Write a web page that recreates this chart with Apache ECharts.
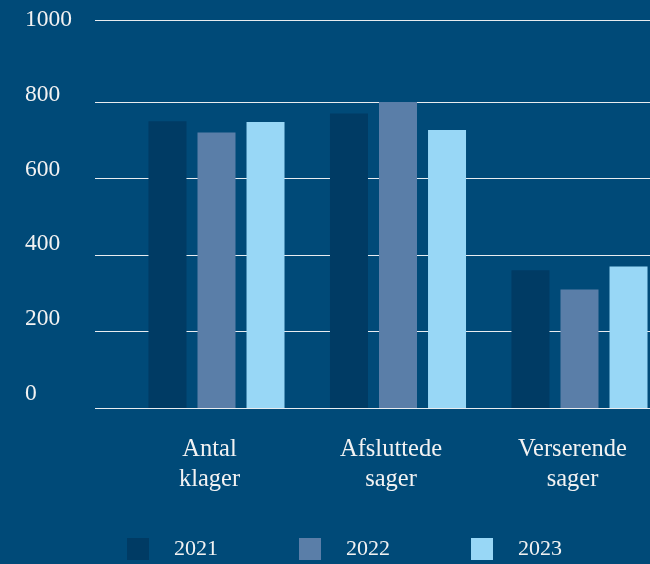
<!DOCTYPE html>
<html><head><meta charset="utf-8">
<script src="https://cdn.jsdelivr.net/npm/echarts@6/dist/echarts.min.js"></script>
<style>html,body{margin:0;padding:0;background:#004a78;}#c{width:650px;height:564px;}</style>
</head><body><div id="c"></div>
<script>
const categories = ['Antal\nklager', 'Afsluttede\nsager', 'Verserende\nsager'];
const seriesNames = ['2021', '2022', '2023'];
const values2021 = [750, 770, 360];
const values2022 = [720, 800, 310];
const values2023 = [748, 727, 370];
const yTicks = [0, 200, 400, 600, 800, 1000];

const colors = ['#003b64', '#5a7ea8', '#98d7f6'];
const legendTextShift = [4, 10, 4];
const font = '"Liberation Serif", serif';
const chart = echarts.init(document.getElementById('c'), null, {renderer: 'canvas'});
const allVals = [values2021, values2022, values2023];
chart.setOption({
  backgroundColor: '#004a78',
  animation: false,
  grid: [
    {left: 95, width: 600, top: 20, bottom: 156, outerBoundsMode: 'none', containLabel: false},
    {left: 125.75, width: 544.5, top: 20, bottom: 156, outerBoundsMode: 'none', containLabel: false},
    {left: 95, width: 600, top: 20, bottom: 170.5, outerBoundsMode: 'none', containLabel: false}
  ],
  xAxis: [
    {gridIndex: 0, type: 'category', data: categories, show: false},
    {gridIndex: 1, type: 'category', data: categories,
      axisLine: {show: false}, axisTick: {show: false},
      axisLabel: {color: '#f2f2f2', fontFamily: font, fontSize: 24.5, lineHeight: 30, margin: 27, padding: [0, 14, 0, 0], hideOverlap: false}},
    {gridIndex: 2, type: 'category', data: categories, show: false}
  ],
  yAxis: [
    {gridIndex: 0, type: 'value', min: 0, max: 1014.4, interval: 200,
      axisLabel: {show: false}, axisLine: {show: false}, axisTick: {show: false},
      splitLine: {show: true, lineStyle: {width: 1.2, color: ['#e8ecf0', '#e8ecf0', '#e8ecf0', '#e8ecf0', '#e8ecf0', 'rgba(0,0,0,0)', '#e8ecf0']}}},
    {gridIndex: 1, type: 'value', min: 0, max: 1014.4, interval: 200, show: false, splitLine: {show: false}},
    {gridIndex: 2, type: 'value', min: yTicks[0], max: yTicks[yTicks.length - 1], interval: 200,
      axisLine: {show: false}, axisTick: {show: false}, splitLine: {show: false},
      axisLabel: {color: '#f2f2f2', fontFamily: font, fontSize: 23.5, align: 'left', margin: 70,
        formatter: v => String(v)}}
  ],
  legend: {
    data: seriesNames.map((n, i) => ({name: n, textStyle: {padding: [legendTextShift[i], 0, 0, 20]}})),
    left: 122, top: 533, itemWidth: 22, itemHeight: 22, itemGap: 81,
    icon: 'rect', textStyle: {color: '#f2f2f2', fontFamily: font, fontSize: 22}
  },
  series: seriesNames.map((n, i) => ({
    name: n, type: 'bar', xAxisIndex: 1, yAxisIndex: 1, data: allVals[i],
    barWidth: 38, barGap: '29%', itemStyle: {color: colors[i]}
  }))
});
</script></body></html>
